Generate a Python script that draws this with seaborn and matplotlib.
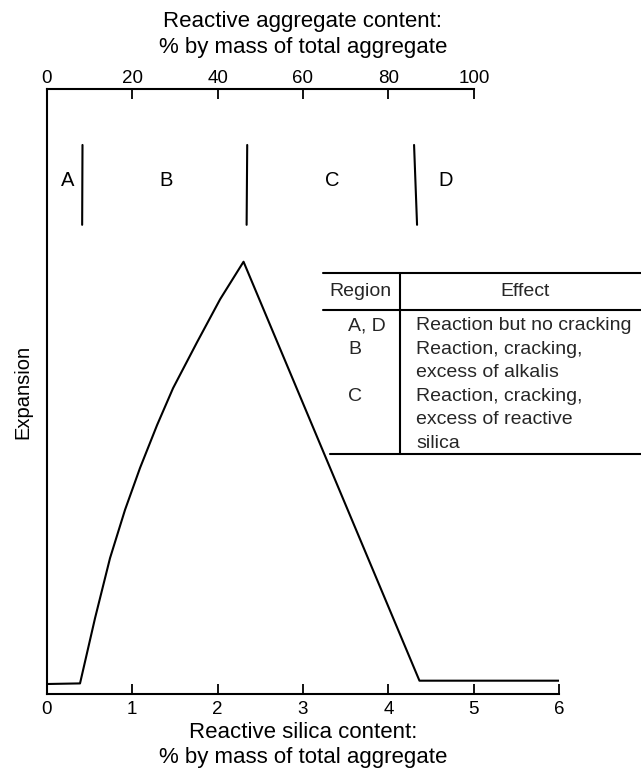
import matplotlib
matplotlib.use("Agg")
import matplotlib.pyplot as plt
from matplotlib.lines import Line2D
import seaborn as sns
import pandas as pd

# curve (silica % vs relative expansion)
silica = [0.0, 0.39, 0.566, 0.741, 0.917, 1.092, 1.292, 1.479, 1.76, 2.03, 2.304, 4.363, 6.0]
expansion = [0.017, 0.018, 0.126, 0.225, 0.305, 0.374, 0.445, 0.506, 0.582, 0.653, 0.715,
             0.0225, 0.0225]

# region boundaries (silica %, top and bottom end of each stroke) and labels
boundary_top = [0.419, 2.347, 4.30]
boundary_bottom = [0.415, 2.340, 4.335]
region_labels = ["A", "B", "C", "D"]
region_label_x = [0.241, 1.397, 3.337, 4.664]

bottom_ticks = [0, 1, 2, 3, 4, 5, 6]
top_ticks = [0, 20, 40, 60, 80, 100]

table_regions = ["A, D", "B", "C"]
table_effects = ["Reaction but no cracking",
                 "Reaction, cracking,\nexcess of alkalis",
                 "Reaction, cracking,\nexcess of reactive\nsilica"]

W, H = 641, 772
sns.set_theme(style="white")
plt.rcParams["font.family"] = ["Liberation Sans", "DejaVu Sans"]
TICK_FS = 13.5
LABEL_FS = 16
TABLE_FS = 14

fig = plt.figure(figsize=(W / 100, H / 100), dpi=100)
ax = fig.add_axes([46.7 / W, 1 - 694.3 / H, 512.6 / W, 605 / H])

df = pd.DataFrame({"silica": silica, "expansion": expansion})
sns.lineplot(data=df, x="silica", y="expansion", sort=False, color="black", lw=1.5, ax=ax)

ax.set_xlim(0, 6)
ax.set_ylim(0, 1)
ax.set_yticks([])
ax.set_xticks(bottom_ticks)
ax.tick_params(axis="x", direction="in", length=7, width=1.3, colors="black",
               labelsize=TICK_FS, pad=5, bottom=True)
for s in ["top", "right"]:
    ax.spines[s].set_visible(False)
for s in ["left", "bottom"]:
    ax.spines[s].set_color("black")
    ax.spines[s].set_linewidth(1.5)
ax.set_xlabel("Reactive silica content:\n% by mass of total aggregate", fontsize=LABEL_FS,
              color="black", labelpad=3, linespacing=1.25)
ax.set_ylabel("Expansion", fontsize=14.5, color="black", labelpad=10)

# top axis: reactive aggregate content (100 % aggregate = 5 % silica)
ax2 = ax.twiny()
ax2.set_xlim(0, 120)
ax2.set_xticks(top_ticks)
for s in ["left", "right", "bottom"]:
    ax2.spines[s].set_visible(False)
ax2.spines["top"].set_bounds(0, 100)
ax2.spines["top"].set_color("black")
ax2.spines["top"].set_linewidth(1.5)
ax2.tick_params(axis="x", direction="in", length=7, width=1.3, colors="black",
                labelsize=TICK_FS, pad=2, top=True)
ax2.set_xlabel("Reactive aggregate content:\n% by mass of total aggregate", fontsize=LABEL_FS,
               color="black", labelpad=12, linespacing=1.3)

# region boundaries
for xt, xb in zip(boundary_top, boundary_bottom):
    ax.plot([xb, xt], [0.776, 0.908], color="black", lw=1.5)
for lab, lx in zip(region_labels, region_label_x):
    ax.text(lx, 0.849, lab, ha="center", va="center", fontsize=14.5, color="black")


def fx(px):
    return px / W


def fy(py):
    return 1 - py / H


# table drawn in figure pixels
for x0, y0 in [(323, 273.3), (323, 310), (330, 454)]:
    fig.add_artist(Line2D([fx(x0), fx(641)], [fy(y0), fy(y0)], color="black", lw=1.5))
fig.add_artist(Line2D([fx(399.5), fx(399.5)], [fy(273.3), fy(454)], color="black", lw=1.5))
fig.text(fx(360), fy(292), "Region", ha="center", va="center", fontsize=TABLE_FS)
fig.text(fx(525), fy(292), "Effect", ha="center", va="center", fontsize=TABLE_FS)

line_h = 23.4
row_y = 326
for reg, eff in zip(table_regions, table_effects):
    fig.text(fx(348), fy(row_y), reg, ha="left", va="center", fontsize=TABLE_FS)
    for i, ln in enumerate(eff.split("\n")):
        fig.text(fx(416.5), fy(row_y + i * line_h), ln, ha="left", va="center", fontsize=TABLE_FS)
    row_y += line_h * (eff.count("\n") + 1)

fig.savefig("out.png", dpi=100)
